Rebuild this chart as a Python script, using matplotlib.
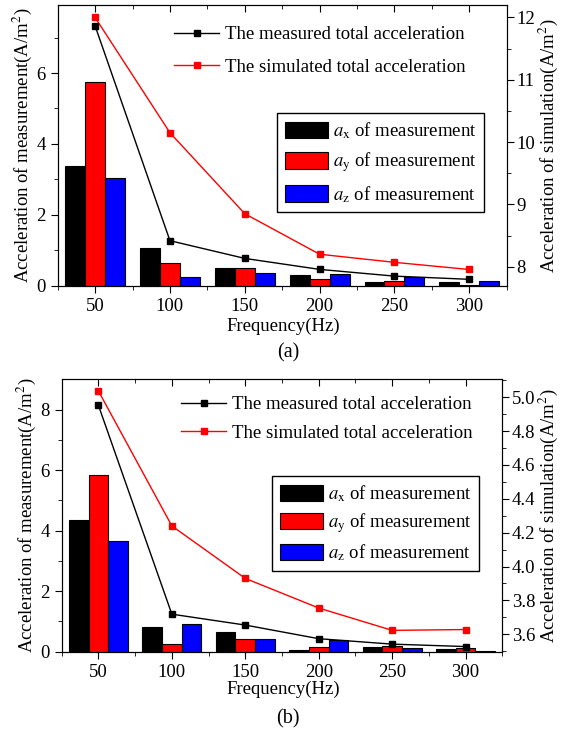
import matplotlib.pyplot as plt
import numpy as np

plt.rcParams["font.family"] = ["Liberation Serif", "DejaVu Serif"]
plt.rcParams["mathtext.fontset"] = "stix"
plt.rcParams["font.size"] = 13.5

freq = [50, 100, 150, 200, 250, 300]
freq_ticks = [50, 100, 150, 200, 250, 300]

# (a)
ax_a = [3.37, 1.07, 0.49, 0.30, 0.11, 0.10]
ay_a = [5.75, 0.65, 0.49, 0.18, 0.14, 0.03]
az_a = [3.03, 0.25, 0.35, 0.32, 0.24, 0.13]
meas_a = [7.33, 1.27, 0.77, 0.46, 0.27, 0.18]
sim_a = [12.0, 10.15, 8.85, 8.20, 8.07, 7.955]

# (b)
ax_b = [4.34, 0.81, 0.66, 0.05, 0.16, 0.09]
ay_b = [5.84, 0.25, 0.41, 0.17, 0.19, 0.12]
az_b = [3.67, 0.92, 0.41, 0.39, 0.11, 0.03]
meas_b = [8.14, 1.24, 0.88, 0.43, 0.25, 0.17]
sim_b = [5.037, 4.24, 3.93, 3.755, 3.623, 3.628]

W, H = 565, 735


def draw_panel(fig, rect, ax_v, ay_v, az_v, meas, sim, ylim_l, ylim_r,
               lticks, rticks, lminor, rminor, line_leg, bar_leg, spacing,
               label, label_y, freq_y):
    ax = fig.add_axes(rect)
    ax2 = ax.twinx()
    x = np.array(freq, dtype=float)
    w = 40 / 3
    b1 = ax.bar(x - w, ax_v, w, color="black", edgecolor="black", lw=0.8)
    b2 = ax.bar(x, ay_v, w, color="red", edgecolor="black", lw=0.8)
    b3 = ax.bar(x + w, az_v, w, color="blue", edgecolor="black", lw=0.8)
    l1, = ax.plot(freq, meas, "-s", color="black", lw=1, ms=5)
    l2, = ax2.plot(freq, sim, "-s", color="red", lw=1, ms=5)
    ax.set_zorder(ax2.get_zorder() + 1)
    ax.patch.set_visible(False)

    ax.set_xlim(25, 325)
    ax.set_ylim(*ylim_l)
    ax2.set_ylim(*ylim_r)
    ax.set_xticks(freq_ticks)
    ax.set_xticks(np.arange(25, 326, 25), minor=True)
    ax.set_yticks(lticks)
    ax.set_yticks(lminor, minor=True)
    ax2.set_yticks(rticks)
    ax2.set_yticks(rminor, minor=True)
    ax.tick_params(which="both", direction="out")
    ax.tick_params(axis="x", which="both", top=True)
    ax.tick_params(which="major", length=5)
    ax.tick_params(which="minor", length=3)
    ax2.tick_params(which="major", direction="out", length=5, pad=2)
    ax2.tick_params(which="minor", direction="out", length=3)
    # top ticks point inward
    for t in ax.xaxis.get_major_ticks() + ax.xaxis.get_minor_ticks():
        t.tick2line.set_marker(3)
    ax.set_ylabel("Acceleration of measurement(A/m$^2$)", labelpad=2)
    ax2.set_ylabel("Acceleration of simulation(A/m$^2$)", labelpad=1)

    fig.legend([l1, l2], ["The measured total acceleration", "The simulated total acceleration"],
               loc="upper left", bbox_to_anchor=line_leg, frameon=False, borderaxespad=0,
               borderpad=0, handlelength=2.4, handletextpad=0.3, labelspacing=spacing[0])
    fig.legend([b1, b2, b3], ["$a_\\mathrm{x}$ of measurement", "$a_\\mathrm{y}$ of measurement",
                              "$a_\\mathrm{z}$ of measurement"],
               loc="upper left", bbox_to_anchor=bar_leg, fancybox=False, edgecolor="black",
               framealpha=1, borderaxespad=0, borderpad=0.4, handlelength=2.3,
               handleheight=1.0, handletextpad=0.3, labelspacing=spacing[1])
    fig.text(283 / W, 1 - freq_y / H, "Frequency(Hz)", ha="center", va="center")
    fig.text(288 / W, 1 - label_y / H, label, ha="center", va="center", fontsize=14.5)


fig = plt.figure(figsize=(W / 100, H / 100), dpi=100)

draw_panel(fig, [57.7 / W, 1 - 285.7 / H, 449 / W, 280.7 / H],
           ax_a, ay_a, az_a, meas_a, sim_a, (0, 7.92), (7.695, 12.2),
           [0, 2, 4, 6], [8, 9, 10, 11, 12], [1, 3, 5, 7], np.arange(8.5, 12.1, 0.5),
           (174 / W, 1 - 26 / H), (277 / W, 1 - 113 / H), (0.84, 0.5), "(a)", 353, 326)

draw_panel(fig, [61.7 / W, 1 - 651.7 / H, 440.6 / W, 272.4 / H],
           ax_b, ay_b, az_b, meas_b, sim_b, (0, 9.0), (3.497, 5.106),
           [0, 2, 4, 6, 8], np.round(np.arange(3.6, 5.01, 0.2), 1), [1, 3, 5, 7],
           np.arange(3.5, 5.11, 0.1),
           (181 / W, 1 - 396 / H), (272 / W, 1 - 476 / H), (0.6, 0.38), "(b)", 719, 689)

fig.savefig("out.png", dpi=100)
